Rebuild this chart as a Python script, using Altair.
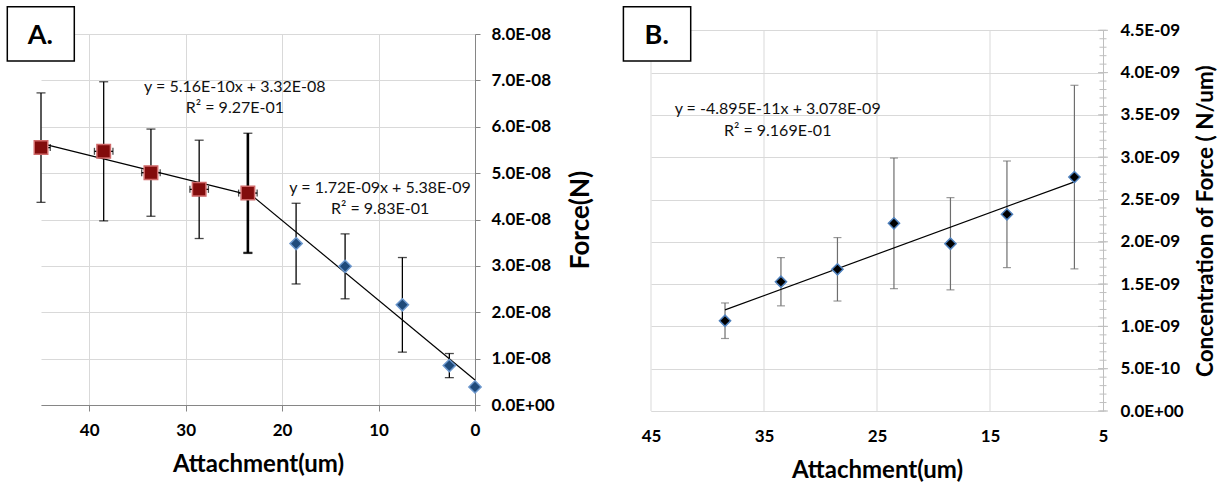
import json
import altair as alt
import pandas as pd

# ---------------- Panel A data ----------------
a_x = [45.0, 38.5, 33.6, 28.6, 23.55, 18.55, 13.47, 7.53, 2.66, 0.0]
a_force = [5.55e-8, 5.47e-8, 5.01e-8, 4.65e-8, 4.57e-8, 3.48e-8, 2.99e-8, 2.16e-8, 0.85e-8, 0.39e-8]
a_yerr = [1.18e-8, 1.50e-8, 0.94e-8, 1.06e-8, 1.29e-8, 0.87e-8, 0.70e-8, 1.02e-8, 0.26e-8, 0.0]
a_xerr = [0.96, 0.96, 0.96, 0.96, 0.96, 0.0, 0.0, 0.0, 0.0, 0.0]
a_seg = ["s1", "s1", "s1", "s1", "s1", "s2", "s2", "s2", "s2", "s2"]

a_fit1_x = [45.0, 23.55]
a_fit1_y = [5.64e-8, 4.535e-8]
a_fit2_x = [23.55, 0.0]
a_fit2_y = [4.59e-8, 0.538e-8]

a_eq_text = ["y = 5.16E-10x + 3.32E-08", "R² = 9.27E-01",
             "y = 1.72E-09x + 5.38E-09", "R² = 9.83E-01"]
a_eq_x = [24.9, 24.9, 9.84, 9.84]
a_eq_y = [6.75e-8, 6.30e-8, 4.575e-8, 4.11e-8]

a_xticks = [0, 10, 20, 30, 40]
a_yticks = [0, 1e-8, 2e-8, 3e-8, 4e-8, 5e-8, 6e-8, 7e-8, 8e-8]
a_ylabels = ["0.0E+00", "1.0E-08", "2.0E-08", "3.0E-08", "4.0E-08",
             "5.0E-08", "6.0E-08", "7.0E-08", "8.0E-08"]

# ---------------- Panel B data ----------------
b_x = [38.45, 33.5, 28.5, 23.5, 18.5, 13.5, 7.53]
b_conc = [1.067e-9, 1.528e-9, 1.675e-9, 2.218e-9, 1.977e-9, 2.325e-9, 2.765e-9]
b_err = [0.21e-9, 0.285e-9, 0.375e-9, 0.772e-9, 0.545e-9, 0.63e-9, 1.085e-9]

b_fit_x = [38.45, 7.53]
b_fit_y = [1.196e-9, 2.709e-9]

b_eq_text = ["y = -4.895E-11x + 3.078E-09", "R² = 9.169E-01"]
b_eq_x = [33.79, 33.79]
b_eq_y = [3.514e-9, 3.25e-9]

b_xticks = [45, 35, 25, 15, 5]
b_xgrid = [45, 35, 25, 15]
b_yticks = [0.0, 5e-10, 1e-9, 1.5e-9, 2e-9, 2.5e-9, 3e-9, 3.5e-9, 4e-9, 4.5e-9]
b_ylabels = ["0.0E+00", "5.0E-10", "1.0E-09", "1.5E-09", "2.0E-09",
             "2.5E-09", "3.0E-09", "3.5E-09", "4.0E-09", "4.5E-09"]
b_minor = [round(i * 1e-10, 20) for i in range(46)]

FONT = "Lato"
WA, HA = 434, 371
WB, HB = 452, 377
B_TOP = -3.7   # panel B's plot area starts a little higher than panel A's

# ---------------- Panel A ----------------
dfA = pd.DataFrame({
    "x": a_x, "y": a_force,
    "lo": [v - e for v, e in zip(a_force, a_yerr)],
    "hi": [v + e for v, e in zip(a_force, a_yerr)],
    "xlo": [v - e for v, e in zip(a_x, a_xerr)],
    "xhi": [v + e for v, e in zip(a_x, a_xerr)],
    "yerr": a_yerr, "xerr": a_xerr, "seg": a_seg,
})
fitA = pd.DataFrame({
    "x": a_fit1_x + a_fit2_x, "y": a_fit1_y + a_fit2_y,
    "k": ["f1", "f1", "f2", "f2"],
})
eqA = pd.DataFrame({"x": a_eq_x, "y": a_eq_y, "t": a_eq_text})

sxA = alt.Scale(domain=[0, 45], reverse=True, nice=False, zero=False)
syA = alt.Scale(domain=[0, 8e-8], nice=False)

axA_x = alt.Axis(values=a_xticks, format="d", tickSize=6, tickColor="#868686",
                 domainColor="#868686", labelPadding=11.5, labelFlush=False,
                 titleY=47, titleBaseline="top", gridColor="#D9D9D9")
axA_y = alt.Axis(orient="right", values=a_yticks,
                 labelExpr=json.dumps(a_ylabels) + "[round(datum.value / 1e-8)]",
                 tickSize=5, tickColor="#868686", domainColor="#868686",
                 labelPadding=11, labelFlush=False, gridColor="#D9D9D9",
                 titleAngle=270, titleX=105, titleY=HA / 2,
                 titleAlign="center", titleBaseline="middle", titleFontSize=26)
TXA = "Attachment(um)"
TYA = "Force(N)"


def XA(field):
    return alt.X(field, scale=sxA, axis=axA_x, title=TXA)


def YA(field):
    return alt.Y(field, scale=syA, axis=axA_y, title=TYA)


baseA = alt.Chart(dfA)
errA = baseA.transform_filter("datum.yerr > 0")
vbar = errA.mark_rule(color="black", strokeWidth=1.3).encode(
    x=XA("x:Q"), y=YA("lo:Q"), y2="hi:Q")
vcap_hi = errA.mark_tick(orient="horizontal", color="black", size=9, thickness=1.3).encode(
    x=XA("x:Q"), y=YA("hi:Q"))
vcap_lo = errA.mark_tick(orient="horizontal", color="black", size=9, thickness=1.3).encode(
    x=XA("x:Q"), y=YA("lo:Q"))
thick = baseA.transform_filter("datum.x == 23.55")
tbar = thick.mark_rule(color="black", strokeWidth=2.6).encode(
    x=XA("x:Q"), y=YA("lo:Q"), y2="hi:Q")
tcap = thick.mark_tick(orient="horizontal", color="black", size=9, thickness=2.4).encode(
    x=XA("x:Q"), y=YA("lo:Q"))
hA = baseA.transform_filter("datum.xerr > 0")
hbar = hA.mark_rule(color="black", strokeWidth=1.3, clip=True).encode(
    x=XA("xlo:Q"), x2="xhi:Q", y=YA("y:Q"))
hcap_l = hA.mark_tick(orient="vertical", color="black", size=7, thickness=1.3, clip=True).encode(
    x=XA("xlo:Q"), y=YA("y:Q"))
hcap_r = hA.mark_tick(orient="vertical", color="black", size=7, thickness=1.3, clip=True).encode(
    x=XA("xhi:Q"), y=YA("y:Q"))
trendA = alt.Chart(fitA).mark_line(color="black", strokeWidth=1.2).encode(
    x=XA("x:Q"), y=YA("y:Q"), detail="k:N")
squares = baseA.transform_filter("datum.seg == 's1'").mark_point(
    shape="square", filled=True, size=182, fill="#820C0C", stroke="#D06A6A",
    strokeWidth=1.5, opacity=1).encode(x=XA("x:Q"), y=YA("y:Q"))
diamondsA = baseA.transform_filter("datum.seg == 's2'").mark_point(
    shape="diamond", filled=True, size=150, fill="#1F4A7A", stroke="#6A96CC",
    strokeWidth=1.5, opacity=1).encode(x=XA("x:Q"), y=YA("y:Q"))
textA = alt.Chart(eqA).mark_text(font=FONT, fontSize=16, color="#111111",
                                 align="center", baseline="alphabetic").encode(
    x=XA("x:Q"), y=YA("y:Q"), text="t:N")
boxdfA = pd.DataFrame({"label": ["A."]})
boxA = alt.Chart(boxdfA).mark_rect(fill="white", stroke="black", strokeWidth=1.5).encode(
    x=alt.value(-33.7), x2=alt.value(33.3), y=alt.value(-27.3), y2=alt.value(27))
lblA = alt.Chart(boxdfA).mark_text(font=FONT, fontSize=27, fontWeight="bold", color="black",
                                   align="center", baseline="alphabetic").encode(
    x=alt.value(-0.7), y=alt.value(10.3), text="label:N")

panelA = alt.layer(vbar, vcap_hi, vcap_lo, tbar, tcap, hbar, hcap_l, hcap_r,
                   trendA, squares, diamondsA, textA, boxA, lblA).properties(
    width=WA, height=HA)

# ---------------- Panel B ----------------
dfB = pd.DataFrame({
    "x": b_x, "y": b_conc,
    "lo": [v - e for v, e in zip(b_conc, b_err)],
    "hi": [v + e for v, e in zip(b_conc, b_err)],
})
fitB = pd.DataFrame({"x": b_fit_x, "y": b_fit_y})
eqB = pd.DataFrame({"x": b_eq_x, "y": b_eq_y, "t": b_eq_text})
majB = pd.DataFrame({"v": b_yticks})
minB = pd.DataFrame({"v": b_minor})
gridB = pd.DataFrame({"g": b_xgrid, "y0": [0.0] * len(b_xgrid),
                      "y1": [4.5e-9] * len(b_xgrid)})

sxB = alt.Scale(domain=[5, 45], reverse=True, nice=False, zero=False)
syB = alt.Scale(domain=[0, 4.5e-9], nice=False, range=[HB, B_TOP])

axB_x = alt.Axis(values=b_xticks, format="d", ticks=False, domainColor="#D9D9D9",
                 labelPadding=17.5, labelFlush=False, titleY=47.5, titleBaseline="top",
                 grid=False)
axB_y = alt.Axis(orient="right", values=b_yticks,
                 labelExpr=json.dumps(b_ylabels) + "[round(datum.value / 5e-10)]",
                 ticks=False, domainColor="#BFBFBF", labelPadding=17, labelFlush=False,
                 gridColor="#D9D9D9", titleAngle=270, titleX=102,
                 titleY=(HB + B_TOP) / 2,
                 titleAlign="center", titleBaseline="middle", titleFontSize=22.5)
TXB = "Attachment(um)"
TYB = "Concentration of Force ( N/um)"


def XB(field):
    return alt.X(field, scale=sxB, axis=axB_x, title=TXB)


def YB(field):
    return alt.Y(field, scale=syB, axis=axB_y, title=TYB)


baseB = alt.Chart(dfB)
ERRC = "#6E6E6E"
vgridB = alt.Chart(gridB).mark_rule(color="#D9D9D9", strokeWidth=1).encode(
    x=XB("g:Q"), y=YB("y0:Q"), y2="y1:Q")
vbarB = baseB.mark_rule(color=ERRC, strokeWidth=1.2).encode(
    x=XB("x:Q"), y=YB("lo:Q"), y2="hi:Q")
capBh = baseB.mark_tick(orient="horizontal", color=ERRC, size=8, thickness=1.2).encode(
    x=XB("x:Q"), y=YB("hi:Q"))
capBl = baseB.mark_tick(orient="horizontal", color=ERRC, size=8, thickness=1.2).encode(
    x=XB("x:Q"), y=YB("lo:Q"))
minorTicks = alt.Chart(minB).mark_rule(color="#BFBFBF", strokeWidth=1).encode(
    x=alt.value(WB - 3.5), x2=alt.value(WB + 3.5), y=YB("v:Q"))
majorTicks = alt.Chart(majB).mark_rule(color="#BFBFBF", strokeWidth=1).encode(
    x=alt.value(WB - 5), x2=alt.value(WB + 5), y=YB("v:Q"))
trendB = alt.Chart(fitB).mark_line(color="black", strokeWidth=1.2).encode(
    x=XB("x:Q"), y=YB("y:Q"))
diamondsB = baseB.mark_point(shape="diamond", filled=True, size=125, fill="black",
                             stroke="#4F81BD", strokeWidth=1.5, opacity=1).encode(
    x=XB("x:Q"), y=YB("y:Q"))
textB = alt.Chart(eqB).mark_text(font=FONT, fontSize=16, color="#111111",
                                 align="center", baseline="alphabetic").encode(
    x=XB("x:Q"), y=YB("y:Q"), text="t:N")
boxdfB = pd.DataFrame({"label": ["B."]})
boxB = alt.Chart(boxdfB).mark_rect(fill="white", stroke="black", strokeWidth=1.5).encode(
    x=alt.value(-27.6), x2=alt.value(39.7), y=alt.value(-23.6 + B_TOP),
    y2=alt.value(30.7 + B_TOP))
lblB = alt.Chart(boxdfB).mark_text(font=FONT, fontSize=27, fontWeight="bold", color="black",
                                   align="center", baseline="alphabetic").encode(
    x=alt.value(5.7), y=alt.value(14 + B_TOP), text="label:N")

panelB = alt.layer(vgridB, minorTicks, majorTicks, vbarB, capBh, capBl, trendB,
                   diamondsB, textB, boxB, lblB).properties(width=WB, height=HB)

chart = alt.concat(panelA, panelB, columns=2, spacing=29).properties(
    padding={"left": 6, "top": 5, "right": 5, "bottom": 5},
    background="white",
).configure_view(stroke=None).configure_axis(
    labelFont=FONT, titleFont=FONT, labelFontWeight="bold", titleFontWeight="bold",
    labelFontSize=17, titleFontSize=24, labelColor="black", titleColor="black",
    gridColor="#D9D9D9", gridWidth=1,
)

chart.save("out.html", embed_options={"renderer": "svg", "actions": False})
